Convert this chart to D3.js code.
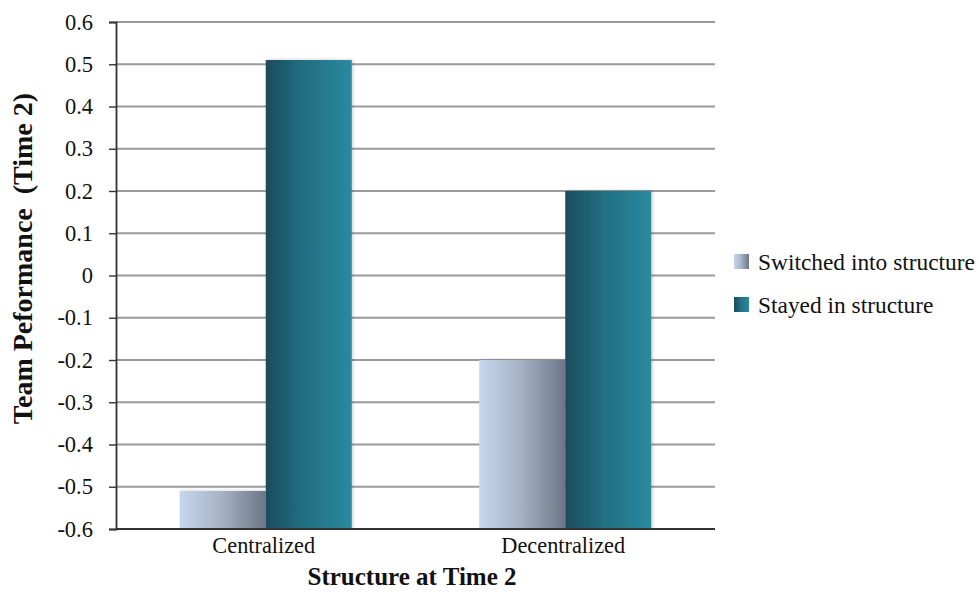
<!DOCTYPE html>
<html>
<head>
<meta charset="utf-8">
<script src="https://cdn.jsdelivr.net/npm/d3@7"></script>
<style>
  html, body { margin: 0; padding: 0; background: #fff; }
  svg { display: block; }
  svg text { font-family: "Liberation Serif", "Times New Roman", serif; fill: #111; }
</style>
</head>
<body>
<svg id="chart" width="979" height="592"></svg>
<script>
// Team performance at Time 2 by structure
const categories = ["Centralized", "Decentralized"];
const seriesNames = ["Switched into structure", "Stayed in structure"];
const switchedValues = [-0.51, -0.2];
const stayedValues = [0.51, 0.2];
const yTicks = [-0.6, -0.5, -0.4, -0.3, -0.2, -0.1, 0, 0.1, 0.2, 0.3, 0.4, 0.5, 0.6];

const svg = d3.select("#chart");
const margin = { left: 116, right: 264, top: 22, bottom: 63 };
const W = 979, H = 592;
const plotW = W - margin.left - margin.right;
const yMin = -0.6, yMax = 0.6;

const y = d3.scaleLinear().domain([yMin, yMax]).range([H - margin.bottom, margin.top]);
const x0 = d3.scaleBand().domain(categories)
  .range([margin.left, margin.left + plotW])
  .paddingInner(0.4257).paddingOuter(0.4257 / 2);
const x1 = d3.scaleBand().domain(seriesNames).range([0, x0.bandwidth()]);

const defs = svg.append("defs");
function grad(id, stops) {
  const g = defs.append("linearGradient").attr("id", id)
    .attr("x1", "0%").attr("x2", "100%").attr("y1", "0%").attr("y2", "0%");
  stops.forEach(s => g.append("stop").attr("offset", s[0]).attr("stop-color", s[1]));
}
grad("gSwitched", [["0%", "#c6d6ec"], ["45%", "#a9b6c9"], ["100%", "#6c7686"]]);
grad("gStayed", [["0%", "#1a4c5c"], ["45%", "#226f83"], ["100%", "#2a8a9f"]]);
const fills = { "Switched into structure": "url(#gSwitched)", "Stayed in structure": "url(#gStayed)" };

const shadow = defs.append("filter").attr("id", "soft").attr("x", "-10%").attr("y", "-10%").attr("width", "130%").attr("height", "130%");
shadow.append("feDropShadow").attr("dx", 1.5).attr("dy", -0.5).attr("stdDeviation", 1.5)
  .attr("flood-color", "#000").attr("flood-opacity", 0.18);

// horizontal gridlines
svg.append("g").selectAll("line").data(yTicks.filter(t => t !== yMin)).join("line")
  .attr("x1", margin.left).attr("x2", margin.left + plotW)
  .attr("y1", d => y(d)).attr("y2", d => y(d))
  .attr("stroke", "#9a9a9a").attr("stroke-width", 1.8);

// bars grow up from the bottom of the value axis
const rows = categories.map((c, i) => ({
  cat: c,
  vals: [
    { s: seriesNames[0], v: switchedValues[i] },
    { s: seriesNames[1], v: stayedValues[i] }
  ]
}));
const groups = svg.append("g").selectAll("g").data(rows).join("g")
  .attr("transform", d => `translate(${x0(d.cat)},0)`);
groups.selectAll("rect").data(d => d.vals).join("rect")
  .attr("x", d => x1(d.s))
  .attr("width", x1.bandwidth())
  .attr("y", d => y(d.v))
  .attr("height", d => y(yMin) - y(d.v))
  .attr("fill", d => fills[d.s])
  .attr("filter", "url(#soft)");

// y axis
const yAxis = d3.axisLeft(y).tickValues(yTicks).tickSize(7).tickPadding(16)
  .tickFormat(d => d === 0 ? "0" : d3.format(".1f")(d).replace("\u2212", "-"));
const yg = svg.append("g").attr("transform", `translate(${margin.left},0)`).call(yAxis);
yg.attr("font-family", null).attr("font-size", null);
yg.select(".domain").attr("stroke", "#333").attr("stroke-width", 1.8);
yg.selectAll(".tick line").attr("stroke", "#333").attr("stroke-width", 1.4);
yg.selectAll(".tick text").attr("font-size", 22.5).attr("fill", "#111");

// x axis baseline
svg.append("line")
  .attr("x1", margin.left).attr("x2", margin.left + plotW)
  .attr("y1", y(yMin)).attr("y2", y(yMin))
  .attr("stroke", "#333").attr("stroke-width", 1.8);

// category labels
svg.append("g").selectAll("text").data(categories).join("text")
  .attr("x", d => x0(d) + x0.bandwidth() / 2 - 2)
  .attr("y", 553)
  .attr("text-anchor", "middle").attr("font-size", 22.3)
  .text(d => d);

// axis titles
svg.append("text")
  .attr("x", 412).attr("y", 585)
  .attr("text-anchor", "middle").attr("font-size", 25).attr("font-weight", "bold")
  .text("Structure at Time 2");
svg.append("text")
  .attr("transform", `translate(32,${(y(yMin) + y(yMax)) / 2 - 17}) rotate(-90)`)
  .attr("text-anchor", "middle").attr("font-size", 28).attr("font-weight", "bold")
  .attr("xml:space", "preserve").style("white-space", "pre")
  .text("Team Peformance  (Time 2)");

// legend
const legend = svg.append("g").attr("transform", "translate(734,254)");
const li = legend.selectAll("g").data(seriesNames).join("g")
  .attr("transform", (d, i) => `translate(0,${i * 43})`);
li.append("rect").attr("width", 15).attr("height", 15).attr("fill", d => fills[d]);
li.append("text").attr("x", 24).attr("y", 7.5).attr("dy", "0.35em")
  .attr("font-size", 23.4).text(d => d);
</script>
</body>
</html>
